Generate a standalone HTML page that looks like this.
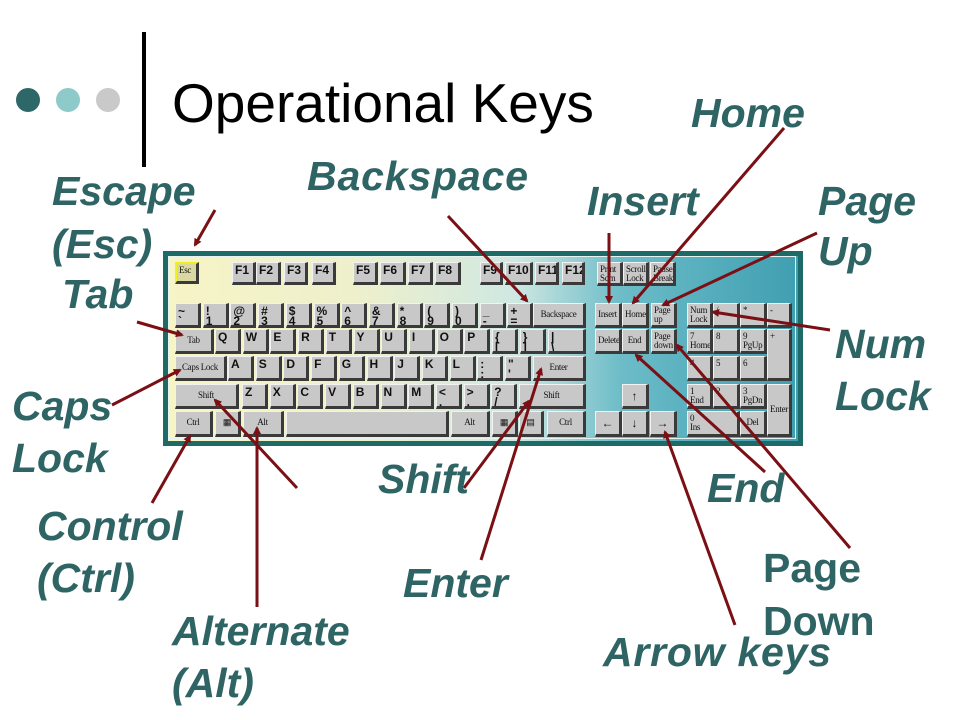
<!DOCTYPE html>
<html><head><meta charset="utf-8">
<style>
html,body{margin:0;padding:0;background:#fff;}
#c{position:relative;width:960px;height:720px;overflow:hidden;background:#fff;font-family:"Liberation Sans",sans-serif;}
.kb{position:absolute;left:163px;top:251px;width:630px;height:185px;border:5px solid #1d6a66;
background:linear-gradient(90deg,#f7f4c6 0%,#eef0cc 30%,#cfe8e2 55%,#6cbcc8 72%,#3f9fb0 100%);}
.kbi{position:absolute;left:168px;top:256px;width:628px;height:183px;border:1px solid #e8f3f0;box-sizing:border-box;}
.k{position:absolute;box-sizing:border-box;background:#c8c8c8;border-top:1px solid #f2f2f2;border-left:1px solid #f2f2f2;border-right:3px solid #3a3a3a;border-bottom:3px solid #3a3a3a;
font-family:"Liberation Serif",serif;font-size:9px;color:#111;line-height:9px;padding:2px 2px;overflow:hidden;white-space:nowrap;letter-spacing:-0.3px;}
.b{font-family:"Liberation Sans",sans-serif;font-weight:bold;font-size:12px;line-height:10px;letter-spacing:0;}
.c{text-align:center;padding-top:6px;}
.esc{background:#d8d8a0;border:2px solid #f0f020;border-right:3px solid #3a3a3a;border-bottom:3px solid #3a3a3a;}
</style></head><body><div id="c">
<svg width="960" height="720" style="position:absolute;left:0;top:0">
<circle cx="28" cy="100" r="12" fill="#2e6767"/>
<circle cx="68" cy="100" r="12" fill="#8fcaca"/>
<circle cx="108" cy="100" r="12" fill="#c9c9c9"/>
<rect x="142" y="32" width="4" height="135" fill="#000"/>
<text x="172" y="122" font-family="Liberation Sans" font-size="55" fill="#000">Operational Keys</text>
</svg>
<div class="kb"></div><div class="kbi"></div>
<div id="keys"></div>
<svg width="960" height="720" style="position:absolute;left:0;top:0">
<defs><marker id="a" markerWidth="8" markerHeight="8" refX="6" refY="4" orient="auto" markerUnits="userSpaceOnUse"><path d="M0,0 L8,4 L0,8 z" fill="#7a0f14"/></marker></defs>
<g stroke="#7a0f14" stroke-width="3" fill="none" marker-end="url(#a)">
<line x1="215" y1="210" x2="195" y2="245"/>
<line x1="448" y1="216" x2="527" y2="301"/>
<line x1="609" y1="233" x2="609" y2="302"/>
<line x1="784" y1="128" x2="633" y2="303"/>
<line x1="817" y1="233" x2="663" y2="305"/>
<line x1="830" y1="330" x2="713" y2="312"/>
<line x1="137" y1="322" x2="182" y2="335"/>
<line x1="112" y1="405" x2="180" y2="370"/>
<line x1="297" y1="488" x2="215" y2="400"/>
<line x1="257" y1="607" x2="257" y2="428"/>
<line x1="152" y1="503" x2="190" y2="436"/>
<line x1="464" y1="488" x2="529" y2="401"/>
<line x1="481" y1="560" x2="541" y2="369"/>
<line x1="765" y1="472" x2="636" y2="355"/>
<line x1="850" y1="548" x2="677" y2="345"/>
<line x1="735" y1="625" x2="665" y2="432"/>
</g>
<g font-family="Liberation Sans" font-weight="bold" font-style="italic" font-size="41" fill="#2f6464">
<text x="691" y="127">Home</text>
<text x="307" y="190" textLength="221">Backspace</text>
<text x="587" y="215">Insert</text>
<text x="818" y="215">Page</text><text x="818" y="265">Up</text>
<text x="52" y="205">Escape</text><text x="52" y="258">(Esc)</text>
<text x="62" y="308">Tab</text>
<text x="835" y="358">Num</text><text x="835" y="410">Lock</text>
<text x="12" y="420">Caps</text><text x="12" y="472">Lock</text>
<text x="378" y="493">Shift</text>
<text x="707" y="502">End</text>
<text x="37" y="540">Control</text><text x="37" y="592">(Ctrl)</text>
<text x="403" y="597">Enter</text>
<text x="763" y="582" font-style="normal">Page</text><text x="763" y="635" font-style="normal">Down</text>
<text x="172" y="645">Alternate</text><text x="172" y="697">(Alt)</text>
<text x="603" y="666" textLength="228">Arrow keys</text>
</g>
</svg>
<script>
var K=[];
function k(x,y,w,h,t,cls){K.push([x,y,w,h,t,cls||""]);}
k(175,262,24,22,"Esc","esc");
var fx=[232,256,284,312,353,380,408,435,480,505,535,562],fw=[24,25,24,24,25,26,25,26,23,28,24,23];
for(var i=0;i<12;i++)k(fx[i],262,fw[i],23,"F"+(i+1),"b");
k(597,262,26,24,"Print<br>Scrn","");k(623,262,26,24,"Scroll<br>Lock","");k(650,262,26,24,"Pause<br>Break","");
var nr=["~<br>`","!<br>1","@<br>2","#<br>3","$<br>4","%<br>5","^<br>6","&amp;<br>7","*<br>8","(<br>9",")<br>0","_<br>-","+<br>="];
for(var i=0;i<13;i++)k(175+i*27.7,303,26,25,nr[i],"b");
k(533,303,53,25,"Backspace","c");
k(595,303,27,25,"Insert","c");k(622,303,27,25,"Home","c");k(651,303,26,25,"Page<br>up","");
k(175,329,39,25,"Tab","c");
var q="QWERTYUIOP".split("").concat(["{<br>[","}<br>]"]);
for(var i=0;i<12;i++)k(215+i*27.7,329,26,25,q[i],"b");
k(548,329,38,25,"|<br>\\","b");
k(595,329,27,25,"Delete","c");k(622,329,27,25,"End","c");k(651,329,26,25,"Page<br>down","");
k(175,356,52,25,"Caps Lock","c");
var a="ASDFGHJKL".split("").concat([":<br>;","\"<br>'"]);
for(var i=0;i<11;i++)k(228+i*27.7,356,26,25,a[i],"b");
k(533,356,53,25,"Enter","c");
k(175,384,64,25,"Shift","c");
var z="ZXCVBNM".split("").concat(["&lt;<br>,","&gt;<br>.","?<br>/"]);
for(var i=0;i<10;i++)k(242+i*27.7,384,26,25,z[i],"b");
k(519,384,67,25,"Shift","c");
k(622,384,27,25,"&#8593;","c b");
k(175,411,38,26,"Ctrl","c");k(215,411,26,26,"&#9638;","c");k(243,411,41,26,"Alt","c");
k(286,411,163,26,"","");k(451,411,39,26,"Alt","c");k(492,411,26,26,"&#9638;","c");k(519,411,25,26,"&#9636;","c");k(547,411,39,26,"Ctrl","c");
k(595,411,27,26,"&#8592;","c b");k(622,411,27,26,"&#8595;","c b");k(650,411,27,26,"&#8594;","c b");
k(687,303,26,25,"Num<br>Lock","");k(713,303,27,25,"/","");k(740,303,27,25,"*","");k(767,303,25,25,"-","");
k(687,329,26,25,"7<br>Home","");k(713,329,27,25,"8","");k(740,329,27,25,"9<br>PgUp","");k(767,329,25,52,"+","");
k(687,356,26,25,"4","");k(713,356,27,25,"5","");k(740,356,27,25,"6","");
k(687,384,26,25,"1<br>End","");k(713,384,27,25,"2","");k(740,384,27,25,"3<br>PgDn","");k(767,384,25,53,"<br><br>Enter","");
k(687,411,53,26,"0<br>Ins","");k(740,411,27,26,"Del","c");
var h="";
K.forEach(function(e){h+='<div class="k '+e[5]+'" style="left:'+e[0]+'px;top:'+e[1]+'px;width:'+e[2]+'px;height:'+e[3]+'px">'+e[4]+'</div>';});
document.getElementById("keys").innerHTML=h;
</script>
</div></body></html>
